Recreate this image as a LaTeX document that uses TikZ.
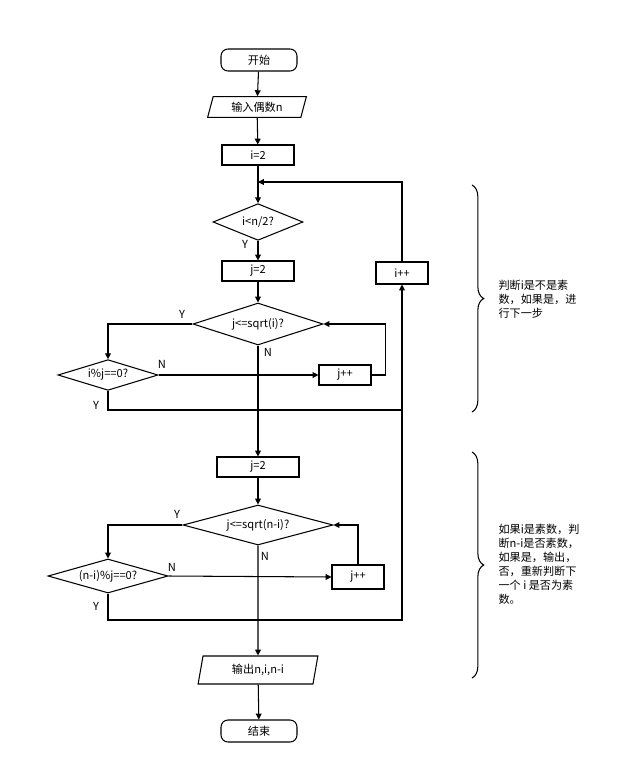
\documentclass[tikz,border=0pt]{standalone}
\usepackage{fontspec}
\setmainfont{Noto Sans CJK SC}
\usetikzlibrary{shapes,arrows.meta,positioning,calc,decorations.pathreplacing}

\begin{document}
\begin{tikzpicture}[
    x=0.03cm, y=-0.03cm,
    font=\fontsize{9.5}{12}\selectfont,
    line width=0.9pt,
    term/.style={rectangle, rounded corners=6pt, draw, minimum width=2.28cm, minimum height=0.66cm, inner sep=0pt},
    io/.style={trapezium, trapezium left angle=75, trapezium right angle=105, draw, minimum height=0.62cm, inner sep=1pt},
    proc/.style={rectangle, draw, minimum width=#1, minimum height=0.6cm, inner sep=0pt},
    proc/.default=2.16cm,
    cond/.style={diamond, draw, aspect=5, inner sep=0pt, minimum width=#1},
    lbl/.style={inner sep=0pt},
    >={Triangle[length=5pt,width=5pt]}
]
    \useasboundingbox (0,0) rectangle (630,776);

    \node[term] (start) at (259,60) {开始};
    \node[io, minimum width=2.3cm] (input) at (257,107) {输入偶数n};
    \node[proc] (iinit) at (258,155) {i=2};
    \node[cond=2.7cm, minimum height=1.1cm] (ilt) at (258,222) {i<n/2?};
    \node[proc] (jinit) at (258,271) {j=2};
    \node[cond=3.9cm, minimum height=1.26cm] (jle) at (258,324) {j<=sqrt(i)?};
    \node[cond=3cm, minimum height=0.92cm] (imod) at (108,375) {i\%j==0?};
    \node[proc=1.56cm] (jinc) at (345,375) {j++};
    \node[proc=1.56cm, minimum height=0.66cm] (iinc) at (402,273) {i++};
    \node[proc=2.46cm] (jinitb) at (258,467) {j=2};
    \node[cond=4.5cm, minimum height=1.2cm] (jleb) at (258,525) {j<=sqrt(n-i)?};
    \node[cond=3.6cm, minimum height=1.02cm] (nmod) at (108,576) {(n-i)\%j==0?};
    \node[proc=1.56cm, minimum height=0.72cm] (jincb) at (358,577) {j++};
    \node[io, trapezium left angle=80, trapezium right angle=100, minimum height=0.84cm] (output) at (258,670) {输出n,i,n-i};
    \node[term] (stop) at (259,731) {结束};

    \coordinate (loop) at (258,182);
    \coordinate (join) at (402,410);
    \coordinate (joinb) at (402,620);

    % main line
    \draw[->] (start) -- (input);
    \draw[->] (input) -- (iinit);
    \draw[->] (iinit) -- (ilt);
    \draw[->] (ilt) -- (jinit);
    \draw[->] (jinit) -- (jle);
    \draw[->] (jle) -- (jinitb);
    \draw[->] (jinitb) -- (jleb);
    \draw[->] (jleb) -- (output);
    \draw[->] (output) -- (stop);

    % first check
    \draw[->] (jle.west) -| (imod.north);
    \draw[->] (imod.east) -- (jinc.west);
    \draw[->] (jinc.east) -- ++(14,0) |- (jle.east);
    \draw (imod.south) |- (join);
    \draw[->] (iinc.north) |- (loop);

    % second check
    \draw[->] (jleb.west) -| (nmod.north);
    \draw[->] (nmod.east) -- (jincb.west);
    \draw[->] (jincb.north) |- (jleb.east);
    \draw[->] (nmod.south) |- (joinb) -- (iinc.south);

    % labels
    \node[lbl] at (245,244) {Y};
    \node[lbl] at (182,314) {Y};
    \node[lbl] at (268,352) {N};
    \node[lbl] at (162,364) {N};
    \node[lbl] at (96,405) {Y};
    \node[lbl] at (177,514) {Y};
    \node[lbl] at (265,556) {N};
    \node[lbl] at (172,567) {N};
    \node[lbl] at (96,606) {Y};

    % notes
    \draw[decorate, decoration={brace, amplitude=10}] (472,185) -- (472,412);
    \node[lbl, anchor=west, align=left] (noteA) at (498,299) {判断i是不是素\\数，如果是，进\\行下一步};
    \draw[decorate, decoration={brace, amplitude=10}] (472,452) -- (472,678);
    \node[lbl, anchor=west, align=left] (noteB) at (498,564) {如果i是素数，判\\断n-i是否素数，\\如果是，输出，\\否，重新判断下\\一个 i 是否为素\\数。};
\end{tikzpicture}
\end{document}
